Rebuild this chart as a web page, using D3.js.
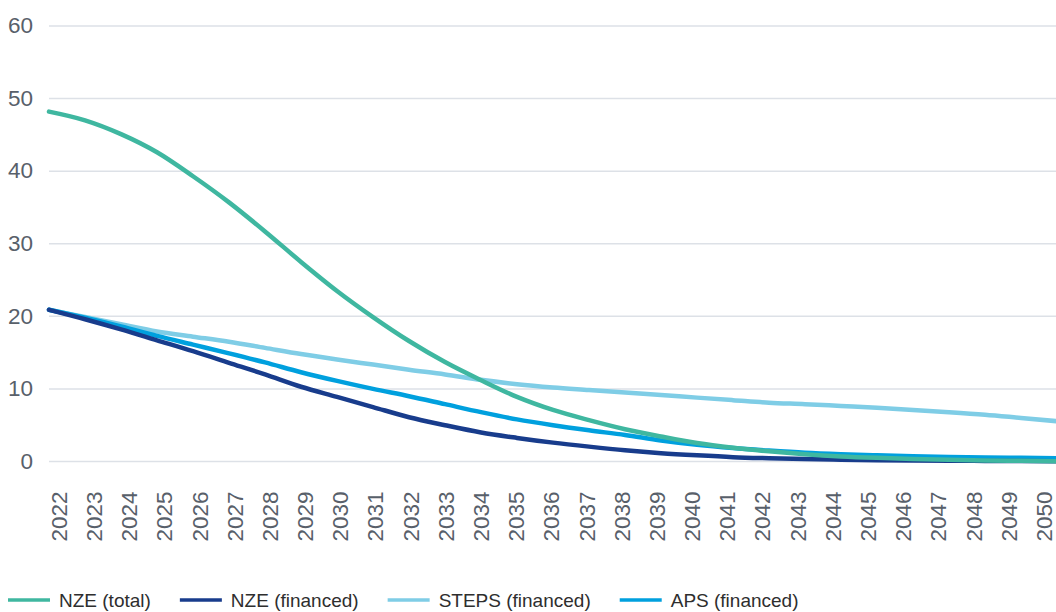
<!DOCTYPE html>
<html>
<head>
<meta charset="utf-8">
<script src="https://cdn.jsdelivr.net/npm/d3@7"></script>
<style>
  body { margin: 0; background: #fff; }
  svg { display: block; font-family: "Liberation Sans", Arial, sans-serif; }
</style>
</head>
<body>
<div id="chart"></div>
<script>
var years = d3.range(2022, 2051);

var nzeTotal = [48.2, 47.0, 45.1, 42.6, 39.3, 35.7, 31.7, 27.5, 23.5, 19.9,
  16.6, 13.7, 11.2, 8.9, 7.1, 5.7, 4.45, 3.45, 2.55, 1.9,
  1.4, 1.0, 0.7, 0.5, 0.35, 0.25, 0.15, 0.1, 0.05];
var nzeFinanced = [20.9, 19.6, 18.2, 16.7, 15.2, 13.6, 12.0, 10.3, 8.9, 7.5,
  6.1, 5.0, 4.0, 3.25, 2.6, 2.05, 1.55, 1.15, 0.85, 0.6,
  0.45, 0.33, 0.25, 0.18, 0.13, 0.1, 0.08, 0.06, 0.05];
var stepsFinanced = [20.9, 19.9, 18.9, 17.9, 17.2, 16.5, 15.65, 14.8, 14.05, 13.35,
  12.65, 12.0, 11.25, 10.65, 10.2, 9.85, 9.5, 9.15, 8.8, 8.45,
  8.1, 7.9, 7.65, 7.4, 7.1, 6.8, 6.45, 6.0, 5.55];
var apsFinanced = [20.9, 19.8, 18.6, 17.3, 16.1, 14.9, 13.65, 12.3, 11.1, 10.0,
  9.0, 7.9, 6.8, 5.8, 5.0, 4.3, 3.65, 2.9, 2.3, 1.85,
  1.5, 1.2, 1.0, 0.85, 0.72, 0.62, 0.55, 0.5, 0.45];

var yTicks = [0, 10, 20, 30, 40, 50, 60];

var seriesNames = ["NZE (total)", "NZE (financed)", "STEPS (financed)", "APS (financed)"];
var seriesColors = ["#3fb7a0", "#183c8c", "#7fcde6", "#00a0de"];
var seriesValues = [nzeTotal, nzeFinanced, stepsFinanced, apsFinanced];

var svgWidth = 1056;
var svgHeight = 612;

var svg = d3.select("#chart")
  .append("svg")
  .attr("width", svgWidth)
  .attr("height", svgHeight);

// scales
var xScale = d3.scaleLinear().domain([2022, 2050]).range([49, 1057]);
var yScale = d3.scaleLinear().domain([0, 60]).range([461.5, 26]);
var labelScale = d3.scalePoint().domain(years).range([58.5, 1043.5]);

// y labels
var yAxis = svg.append("g")
  .attr("transform", "translate(33, 0)")
  .call(d3.axisLeft(yScale).tickValues(yTicks).tickSize(0).tickPadding(0));
yAxis.select(".domain").remove();
yAxis.selectAll("text")
  .attr("dy", "0.3em")
  .attr("fill", "#58606a")
  .style("font-size", "22.5px")
  .style("font-family", "'Liberation Sans', Arial, sans-serif");

// gridlines
svg.append("g").selectAll("line")
  .data(yTicks)
  .enter()
  .append("line")
  .attr("x1", 49)
  .attr("x2", svgWidth)
  .attr("y1", d => yScale(d))
  .attr("y2", d => yScale(d))
  .attr("stroke", "#dde1e7")
  .attr("stroke-width", 1.5);

// x labels (rotated)
var xAxis = svg.append("g")
  .attr("transform", "translate(0, 541.5)")
  .call(d3.axisBottom(labelScale).tickSize(0));
xAxis.select(".domain").remove();
xAxis.selectAll("text")
  .attr("x", 0)
  .attr("y", 0)
  .attr("dy", "0.35em")
  .attr("transform", "rotate(-90)")
  .attr("fill", "#58606a")
  .style("text-anchor", "start")
  .style("font-size", "22.5px")
  .style("font-family", "'Liberation Sans', Arial, sans-serif");

// lines
var line = d3.line()
  .x((d, i) => xScale(years[i]))
  .y(d => yScale(d))
  .curve(d3.curveMonotoneX);

var drawOrder = [2, 3, 1, 0];
drawOrder.forEach(function(k) {
  svg.append("path")
    .datum(seriesValues[k])
    .attr("d", line)
    .attr("fill", "none")
    .attr("stroke", seriesColors[k])
    .attr("stroke-width", 4.5)
    .attr("stroke-linecap", "round")
    .attr("stroke-linejoin", "round");
});

// legend
var legend = svg.append("g").attr("transform", "translate(0, 600)");
var lx = 8;
seriesNames.forEach(function(name, i) {
  legend.append("line")
    .attr("x1", lx).attr("x2", lx + 42)
    .attr("y1", 0).attr("y2", 0)
    .attr("stroke", seriesColors[i])
    .attr("stroke-width", 3.5);
  var t = legend.append("text")
    .attr("x", lx + 51)
    .attr("y", 0)
    .attr("dy", "0.35em")
    .attr("fill", "#2e2e2e")
    .style("font-size", "19px")
    .text(name);
  lx = lx + 51 + t.node().getComputedTextLength() + 29;
});
</script>
</body>
</html>
